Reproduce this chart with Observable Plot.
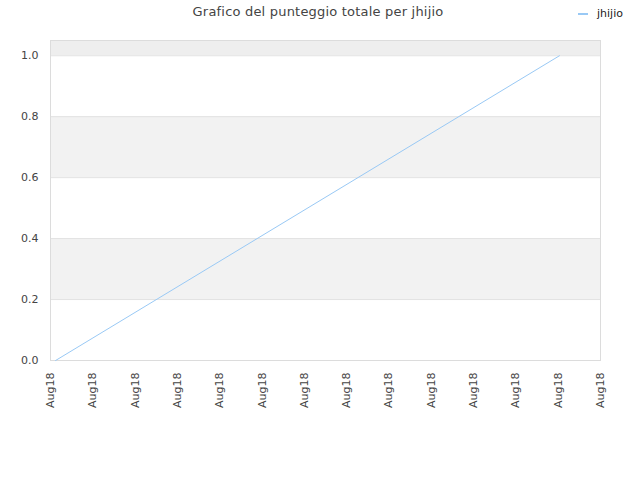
<!DOCTYPE html>
<html>
<head>
<meta charset="utf-8">
<script src="https://cdn.jsdelivr.net/npm/d3@7"></script>
<script src="https://cdn.jsdelivr.net/npm/@observablehq/plot@0.6"></script>
<style>
  body { margin: 0; background: #fff; font-family: "DejaVu Sans", sans-serif; }
  #wrap { position: relative; width: 640px; height: 480px; }
  #title { position: absolute; top: 4px; left: 0; width: 636px; text-align: center; font-size: 13px; color: #444; letter-spacing: 0.2px; }
  #legend { position: absolute; top: 7px; left: 578px; font-size: 11px; color: #222; display: flex; align-items: center; }
  #legend .sw { width: 10px; height: 0; border-top: 2px solid #99c9f5; margin-right: 9px; }
  svg { position: absolute; top: 0; left: 0; }
</style>
</head>
<body>
<div id="wrap">
  <div id="title">Grafico del punteggio totale per jhijio</div>
  <div id="legend"><span class="sw"></span><span>jhijio</span></div>
</div>
<script>
// Data
const seriesName = "jhijio";
const timePos = [0.12, 12.03];      // position along time axis (tick units)
const scores = [0, 1];
const xTicks = [0,1,2,3,4,5,6,7,8,9,10,11,12,13];
const xTickLabels = ["Aug18","Aug18","Aug18","Aug18","Aug18","Aug18","Aug18","Aug18","Aug18","Aug18","Aug18","Aug18","Aug18","Aug18"];
const yTicks = [0, 0.2, 0.4, 0.6, 0.8, 1.0];
const bandLow = [0.2, 0.6, 1.0];
const bandHigh = [0.4, 0.8, 1.05];

const xDomain = [xTicks[0], xTicks[xTicks.length - 1]];
const yDomain = [0, 1.05];
const points = timePos.map((t, i) => ({t, s: scores[i]}));
const bands = bandLow.map((lo, i) => ({lo, hi: bandHigh[i], top: i === bandLow.length - 1}));

const chart = Plot.plot({
  width: 640,
  height: 480,
  marginTop: 40,
  marginBottom: 120,
  marginLeft: 50,
  marginRight: 40,
  style: {fontFamily: "DejaVu Sans, sans-serif", fontSize: "11px", color: "#444", background: "transparent"},
  x: {domain: xDomain},
  y: {domain: yDomain},
  marks: [
    Plot.rect(bands, {x1: () => xDomain[0], x2: () => xDomain[1], y1: "lo", y2: "hi", fill: d => d.top ? "#eeeeee" : "#f2f2f2"}),
    Plot.gridY(yTicks, {stroke: "#e2e2e2", strokeOpacity: 1}),
    Plot.frame({stroke: "#dcdcdc"}),
    Plot.axisY({ticks: yTicks, tickFormat: d3.format(".1f"), tickSize: 0, tickPadding: 12, fill: "#444", label: null}),
    Plot.axisX({ticks: xTicks, tickFormat: (d, i) => xTickLabels[i], tickRotate: -90, tickSize: 0, tickPadding: 12, fill: "#444", label: null}),
    Plot.line(points, {x: "t", y: "s", stroke: "#99c9f5", strokeWidth: 1})
  ]
});
document.getElementById("wrap").prepend(chart);
</script>
</body>
</html>
